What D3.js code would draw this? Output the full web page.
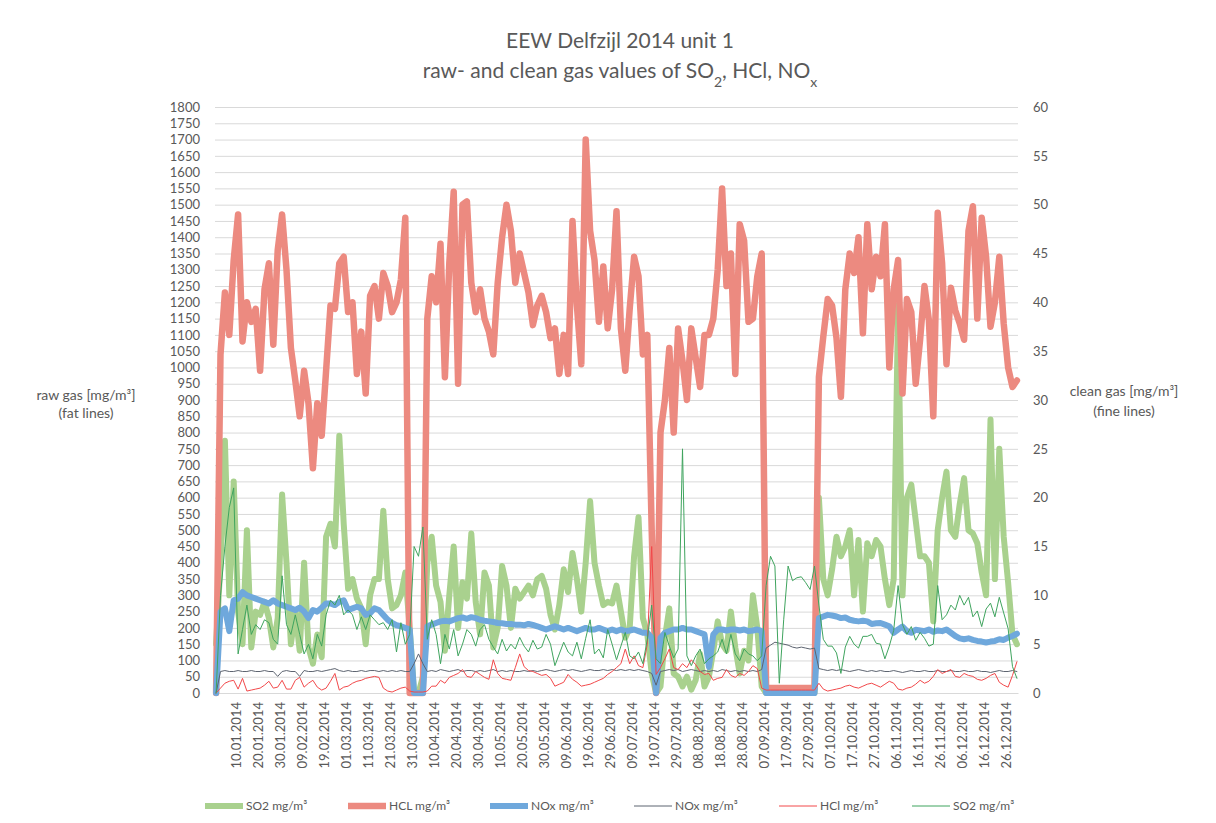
<!DOCTYPE html>
<html>
<head>
<meta charset="utf-8">
<script src="https://cdn.jsdelivr.net/npm/d3@7"></script>
<style>
  body { margin: 0; background: #fff; }
  text { font-family: Lato, "Open Sans", "Noto Sans", sans-serif; fill: #595959; }
</style>
</head>
<body>
<script>
// samples every second day of 2014 (day 0 = 01.01.2014)
var sampleDays = d3.range(0, 365, 2);

// raw gas, left axis [mg/m3] (fat lines)
var so2Raw = [
  150,400,775,300,650,250,150,500,140,250,
  240,280,230,140,230,610,400,150,250,130,
  400,140,90,180,110,480,520,450,790,520,
  320,350,290,260,150,300,350,350,560,350,
  260,270,300,370,200,0,0,50,400,480,
  330,280,130,300,450,200,340,290,490,280,
  180,370,330,140,200,390,330,200,320,290,
  310,330,300,350,360,320,240,195,270,380,
  310,430,350,250,400,590,400,330,270,280,
  275,330,250,170,200,420,540,230,180,60,
  0,20,170,260,60,50,20,50,10,40,
  120,20,50,130,220,150,130,250,140,60,
  130,100,300,200,20,0,0,0,0,0,
  0,0,0,0,0,0,0,600,350,300,
  380,480,420,450,500,300,470,250,460,420,
  470,450,350,270,350,1190,300,600,640,530,
  420,420,400,220,500,600,680,500,480,580,
  660,500,490,460,370,300,840,350,750,480,
  340,180,150
];
var hclRaw = [
  0,1040,1230,1100,1330,1470,1080,1200,1140,1180,
  990,1240,1320,1070,1360,1470,1300,1060,960,850,
  990,890,690,890,790,990,1190,1180,1320,1340,
  1170,1200,980,1110,920,1220,1250,1150,1290,1250,
  1170,1200,1270,1460,0,0,0,0,1150,1280,
  1200,1380,970,1320,1540,950,1500,1510,1260,1170,
  1240,1150,1110,1040,1260,1400,1500,1420,1260,1350,
  1290,1230,1130,1190,1220,1170,1090,1120,980,1100,
  980,1450,1190,1010,1700,1420,1330,1140,1310,1120,
  1240,1480,1120,990,1180,1340,1280,1040,1100,500,
  0,800,900,1060,800,1120,1020,900,1120,1030,
  940,1100,1100,1150,1300,1550,1250,1350,980,1440,
  1390,1140,1150,1280,1350,15,15,15,15,15,
  15,15,15,15,15,15,15,970,1095,1210,
  1190,1090,910,1240,1350,1290,1400,1105,1440,1240,
  1340,1280,1440,1000,1240,1330,920,1210,1170,950,
  1085,1250,1145,850,1475,1320,1010,1245,1175,1135,
  1085,1420,1495,1150,1460,1340,1125,1200,1340,1135,
  1000,940,960
];
var noxRaw = [
  0,250,260,190,285,290,310,300,295,290,
  285,280,275,285,275,270,265,260,255,262,
  250,230,255,250,262,275,275,270,280,285,
  255,260,265,260,240,245,260,255,240,225,
  215,208,205,200,195,0,0,0,205,210,
  215,220,222,220,225,230,232,228,233,230,
  225,222,220,218,215,214,212,212,210,210,
  208,212,209,205,200,195,200,205,200,195,
  200,195,190,195,200,195,195,200,195,190,
  195,190,195,190,192,195,190,185,185,170,
  0,170,185,190,195,195,200,195,195,190,
  185,180,80,180,195,195,192,195,195,192,
  195,190,192,195,190,0,0,0,0,0,
  0,0,0,0,0,0,0,230,235,240,
  238,235,230,232,225,222,220,222,220,212,
  214,215,210,205,185,195,204,190,185,194,
  192,190,195,188,192,190,195,185,175,168,
  165,168,163,160,158,155,158,160,165,163,
  170,175,182
];

// clean gas, right axis [mg/m3] (fine lines)
var noxClean = [
  0,2.2,2.3,2.2,2.2,2.3,2.2,2.2,2.3,2.2,
  2.2,2.3,2.2,2.2,1.7,2.2,2.3,2.2,2.2,1.7,
  2.3,2.2,2.2,2.3,2.2,2.3,2.4,2.5,2.3,2.2,
  2.3,2.2,2.2,2.3,2.2,2.3,2.3,2.2,2.3,2.2,
  2.3,2.2,2.3,2.2,2.2,3.0,4.0,3.0,2.2,2.3,
  2.2,2.4,2.3,2.2,2.3,2.4,2.2,2.3,2.3,2.2,
  2.3,2.2,2.3,2.4,2.2,2.3,2.2,2.3,2.2,2.2,
  2.3,2.2,2.3,2.2,2.3,2.4,2.3,2.2,2.3,2.4,
  2.3,2.4,2.3,2.2,2.3,2.4,2.3,2.3,2.4,2.3,
  2.4,2.3,2.4,2.3,2.4,2.3,2.4,2.3,2.2,2.0,
  0.8,2.2,2.3,2.4,2.3,2.4,2.2,2.3,2.4,2.3,
  2.2,2.3,2.2,2.3,2.2,2.4,2.3,2.2,2.3,2.2,
  2.3,2.2,2.3,2.2,2.4,4.6,4.9,5.2,5.1,5.0,
  4.9,4.7,4.6,4.7,4.6,4.5,4.6,2.5,2.4,2.3,
  2.4,2.3,2.4,2.3,2.2,2.3,2.4,2.3,2.2,2.3,
  2.2,2.3,2.2,2.2,2.3,2.2,2.1,2.2,2.3,2.2,
  2.2,2.3,2.2,2.2,2.3,2.2,2.2,2.3,2.2,2.2,
  2.3,2.2,2.2,2.3,2.2,2.2,2.1,2.2,2.3,2.2,
  2.2,2.3,2.2
];
var hclClean = [
  0,0.5,1.0,1.2,1.3,0.4,1.5,0.2,0.3,0.4,
  0.5,0.8,1.2,0.5,0.6,1.3,0.4,0.4,1.3,1.6,
  0.6,1.0,1.3,0.6,0.3,0.5,1.2,2.0,0.3,0.6,
  0.7,1.0,1.2,1.3,1.5,1.6,1.7,1.6,0.5,0.2,
  0.1,0.3,0.5,0.6,0.2,0.1,0.1,0.1,0.2,0.7,
  0.7,1.3,1.0,1.6,1.8,2.0,2.4,1.7,1.6,2.2,
  1.9,1.6,1.4,3.4,2.0,1.5,1.4,1.3,2.6,4.0,
  2.7,2.3,2.2,2.0,1.8,1.9,1.5,0.7,0.9,1.1,
  1.9,1.4,1.1,0.7,0.8,0.9,1.1,1.3,1.5,1.9,
  2.2,2.6,3.0,4.5,3.0,3.8,2.8,2.6,5.0,15,
  1.9,2.6,3.5,4.5,2.6,2.4,3.0,2.6,3.4,2.9,
  2.2,1.9,2.0,1.3,1.5,1.6,2.4,1.8,1.6,2.0,
  1.8,2.2,2.8,2.5,0.5,0.3,0.3,0.3,0.3,0.3,
  0.3,0.3,0.3,0.3,0.3,0.3,0.3,1.0,0.4,0.2,
  0.3,0.4,0.5,0.7,0.8,0.6,0.5,0.7,0.9,1.0,
  0.8,0.6,0.9,1.2,1.0,0.4,0.3,0.5,0.6,0.9,
  1.3,1.0,1.2,1.7,2.4,2.0,2.2,2.4,1.7,1.6,
  2.0,1.8,1.7,1.4,1.3,1.5,1.8,2.0,1.1,0.8,
  0.6,1.8,3.2
];
var so2Clean = [
  0,10,15,19,21,4,6.5,9,6,7,
  6.5,7.5,7.2,5.5,5,12,7,6,8,6,
  4,5,3.5,6,4.8,8,9.5,9,10,8,
  8.5,8,6.5,7.8,6.5,8,7.5,7,7.2,6.5,
  7.5,4.2,7.2,5,6,15,14,17,5.5,7.5,
  6,3,6,4.5,6.5,3.8,5,6.5,6,4.8,
  6.5,7,5.5,4.7,4,5.5,4.3,5,4.5,5.7,
  4.8,4.2,5.4,4.5,4.7,6,5,2.8,4,5.2,
  4.2,3.8,5.2,3.5,5.6,7.5,4,4.5,3.6,6.5,
  5,3.4,4.8,6.2,3.8,3.5,4.2,3,5.5,9,
  3.5,3,6.2,4.8,3.6,4.5,25,3.8,2.8,3.8,
  4.5,3,3.5,3.8,4.2,5.5,4,6,4,3.3,
  4.5,4,3.8,3.3,3.8,11,14,13,1,7.5,
  13,11.5,11.8,11.9,11.3,10.6,13,9,5.5,4.8,
  4.8,4.1,2,4.7,5.8,5,4.6,5.8,5.8,6,
  5.1,5,3.5,4.8,6.4,11,7,6,6.8,5.4,
  6.2,5.6,4.8,5,11,7.5,8,9,8.5,10,
  9,9.8,7.8,8.4,6.8,8.6,9.2,7.8,9.8,8.2,
  6.6,2.7,1.5
];

// category labels shown on the x axis
var xTickLabels = [
  "10.01.2014","20.01.2014","30.01.2014","09.02.2014","19.02.2014","01.03.2014",
  "11.03.2014","21.03.2014","31.03.2014","10.04.2014","20.04.2014","30.04.2014",
  "10.05.2014","20.05.2014","30.05.2014","09.06.2014","19.06.2014","29.06.2014",
  "09.07.2014","19.07.2014","29.07.2014","08.08.2014","18.08.2014","28.08.2014",
  "07.09.2014","17.09.2014","27.09.2014","07.10.2014","17.10.2014","27.10.2014",
  "06.11.2014","16.11.2014","26.11.2014","06.12.2014","16.12.2014","26.12.2014"
];
var leftTicks = d3.range(0, 1801, 50);
var rightTicks = d3.range(0, 61, 5);

var width = 1216, height = 823;
var plotLeft = 215, plotRight = 1018, plotTop = 107, plotBottom = 693;

var svg = d3.select("body").append("svg")
  .attr("width", width)
  .attr("height", height);

var parseDay = d3.timeParse("%d.%m.%Y");
var start = new Date(2014, 0, 1);
var dayDate = function(d) { return d3.timeDay.offset(start, d); };

// each day is a category band, points sit in the band centre
var x = d3.scaleTime()
  .domain([new Date(2013, 11, 31, 12), new Date(2014, 11, 31, 12)])
  .range([plotLeft, plotRight]);
var yL = d3.scaleLinear().domain([0, 1800]).range([plotBottom, plotTop]);
var yR = d3.scaleLinear().domain([0, 60]).range([plotBottom, plotTop]);

// gridlines
svg.append("g")
  .attr("transform", "translate(" + plotLeft + ",0)")
  .call(d3.axisLeft(yL).tickValues(leftTicks).tickSize(-(plotRight - plotLeft)).tickFormat(""))
  .call(function(g) { g.select(".domain").remove(); })
  .selectAll("line").attr("stroke", "#d9d9d9").attr("stroke-width", 1);

// left axis labels
svg.append("g")
  .attr("transform", "translate(" + plotLeft + ",0)")
  .call(d3.axisLeft(yL).tickValues(leftTicks).tickFormat(d3.format("d")).tickSize(0).tickPadding(15))
  .call(function(g) { g.select(".domain").remove(); })
  .selectAll("text")
  .style("font-size", "13px").style("fill", "#595959");

// right axis labels
svg.append("g")
  .attr("transform", "translate(" + plotRight + ",0)")
  .call(d3.axisRight(yR).tickValues(rightTicks).tickFormat(d3.format("d")).tickSize(0).tickPadding(15))
  .call(function(g) { g.select(".domain").remove(); })
  .selectAll("text")
  .style("font-size", "13px").style("fill", "#595959");

// x axis with rotated date labels
var xAxis = svg.append("g")
  .attr("transform", "translate(0," + plotBottom + ")")
  .call(d3.axisBottom(x)
    .tickValues(xTickLabels.map(parseDay))
    .tickFormat(d3.timeFormat("%d.%m.%Y"))
    .tickSize(0));
xAxis.select(".domain").attr("stroke", "#d9d9d9");
xAxis.selectAll("text")
  .attr("transform", "rotate(-90)")
  .attr("text-anchor", "end")
  .attr("x", -9)
  .attr("y", 0)
  .attr("dy", "0.35em")
  .style("font-size", "13px").style("fill", "#595959");

// build and draw the lines
function series(vals) {
  return vals.map(function(v, i) { return { date: dayDate(sampleDays[i]), v: v }; });
}
var lineL = d3.line().x(function(d) { return x(d.date); }).y(function(d) { return yL(d.v); });
var lineR = d3.line().x(function(d) { return x(d.date); }).y(function(d) { return yR(d.v); });

var lines = [
  { name: "SO2 mg/m³", vals: so2Raw, gen: lineL, color: "#a9d18e", w: 6 },
  { name: "HCL mg/m³", vals: hclRaw, gen: lineL, color: "#ec8a80", w: 6.5 },
  { name: "NOx mg/m³", vals: noxRaw, gen: lineL, color: "#6fa8dc", w: 6 },
  { name: "NOx mg/m³", vals: noxClean, gen: lineR, color: "#5d6470", w: 1 },
  { name: "HCl mg/m³", vals: hclClean, gen: lineR, color: "#f2484a", w: 1 },
  { name: "SO2 mg/m³", vals: so2Clean, gen: lineR, color: "#3fa45e", w: 1 }
];

svg.append("g").selectAll("path")
  .data(lines)
  .join("path")
  .attr("d", function(d) { return d.gen(series(d.vals)); })
  .attr("fill", "none")
  .attr("stroke", function(d) { return d.color; })
  .attr("stroke-width", function(d) { return d.w; })
  .attr("stroke-linejoin", "round")
  .attr("stroke-linecap", "round");

// title
svg.append("text")
  .attr("x", 620).attr("y", 48)
  .attr("text-anchor", "middle")
  .style("font-size", "21px")
  .text("EEW Delfzijl 2014 unit 1");
var sub = svg.append("text")
  .attr("x", 620).attr("y", 78)
  .attr("text-anchor", "middle")
  .style("font-size", "21px");
sub.append("tspan").text("raw- and clean gas values of SO");
sub.append("tspan").attr("baseline-shift", "sub").style("font-size", "14px").text("2");
sub.append("tspan").text(", HCl, NO");
sub.append("tspan").attr("baseline-shift", "sub").style("font-size", "14px").text("x");

// axis titles
var lt = svg.append("text").attr("text-anchor", "middle").style("font-size", "14px");
lt.append("tspan").attr("x", 86).attr("y", 400).text("raw gas [mg/m³]");
lt.append("tspan").attr("x", 86).attr("y", 418).text("(fat lines)");
var rt = svg.append("text").attr("text-anchor", "middle").style("font-size", "14px");
rt.append("tspan").attr("x", 1124).attr("y", 396).text("clean gas [mg/m³]");
rt.append("tspan").attr("x", 1124).attr("y", 416).text("(fine lines)");

// legend
var legendX = [205, 348, 490, 634, 779, 912];
var legend = svg.append("g").selectAll("g")
  .data(lines)
  .join("g")
  .attr("transform", function(d, i) { return "translate(" + legendX[i] + ",806)"; });
legend.append("line")
  .attr("x1", 0).attr("x2", 38)
  .attr("stroke", function(d) { return d.color; })
  .attr("stroke-width", function(d) { return d.w; });
legend.append("text")
  .attr("x", 41).attr("dy", "0.35em")
  .style("font-size", "12px")
  .text(function(d) { return d.name; });
</script>
</body>
</html>
